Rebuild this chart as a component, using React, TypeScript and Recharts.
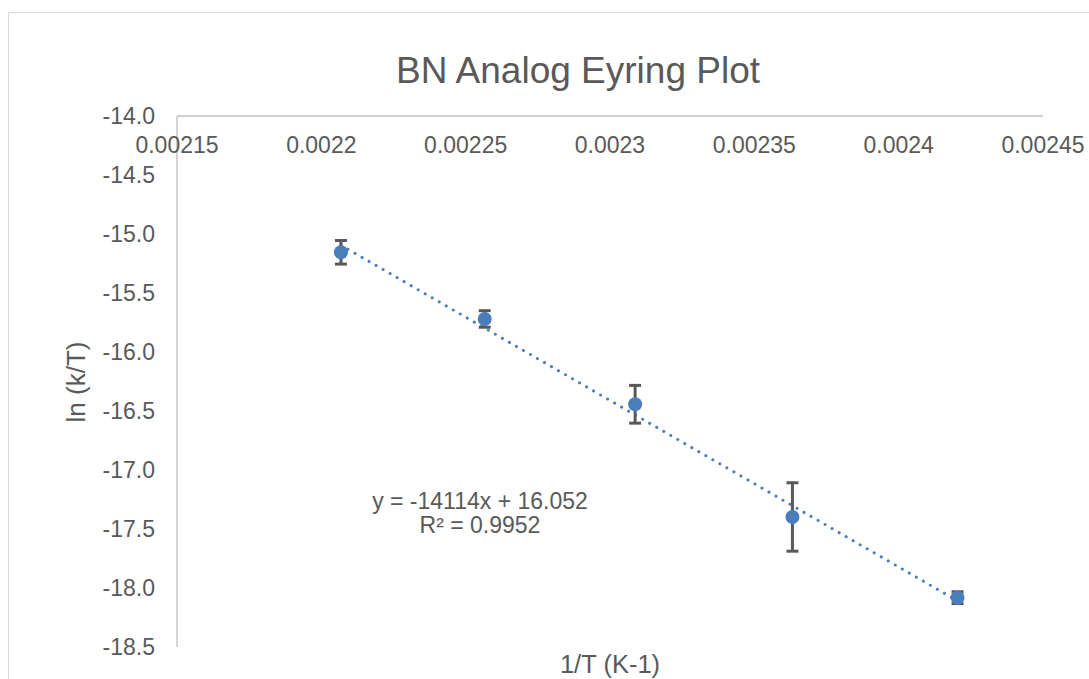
import React from 'react'
import { ErrorBar, ReferenceLine, Scatter, ScatterChart, XAxis, YAxis } from 'recharts'

// Eyring data: 1/T (K^-1), ln(k/T), +/- error
const invTemps = [0.0022068, 0.0022566, 0.0023087, 0.0023632, 0.0024204]
const lnKT = [-15.155, -15.72, -16.443, -17.398, -18.082]
const errs = [0.1, 0.07, 0.16, 0.29, 0.05]

const xTicks = [0.00215, 0.0022, 0.00225, 0.0023, 0.00235, 0.0024, 0.00245]
const xTickLabels = ['0.00215', '0.0022', '0.00225', '0.0023', '0.00235', '0.0024', '0.00245']
const yTicks = [-14, -14.5, -15, -15.5, -16, -16.5, -17, -17.5, -18, -18.5]

// linear trendline shown on the chart
const slope = -14114
const intercept = 16.052
const rSquared = '0.9952'

const points = invTemps.map((x, i) => ({ x, y: lnKT[i], err: errs[i] }))
const fitX0 = invTemps[0]
const fitX1 = invTemps[invTemps.length - 1]

const FONT = '"Liberation Sans", Arial, sans-serif'
const TEXT = '#595959'
const BLUE = '#4a7ebb'

const XTick = (props: any) => {
  const { x, y, index, payload } = props
  return (
    <text x={x} y={y + 36.5} textAnchor="middle" fill={TEXT} fontSize={23} fontFamily={FONT}>
      {xTickLabels[index] ?? String(payload.value)}
    </text>
  )
}

const Dot = (props: any) => {
  const { cx, cy } = props
  return <circle cx={cx} cy={cy} r={7} fill={BLUE} />
}

export default function App() {
  return (
    <div style={{ height: 663 }}>
      <div
        style={{
          position: 'absolute',
          left: 8,
          top: 12,
          width: 1081,
          height: 667,
          boxSizing: 'border-box',
          borderTop: '1px solid #d9d9d9',
          borderLeft: '1px solid #d9d9d9',
          background: '#fff',
        }}
      >
        <ScatterChart width={1080} height={666} margin={{ top: 73, right: 46, bottom: 32, left: 88 }}>
          <XAxis
            type="number"
            dataKey="x"
            orientation="top"
            height={30}
            domain={[0.00215, 0.00245]}
            ticks={xTicks}
            interval={0}
            tickLine={false}
            tickSize={0}
            tickMargin={0}
            axisLine={{ stroke: '#bfbfbf', strokeWidth: 1.3 }}
            tick={<XTick />}
          />
          <YAxis
            type="number"
            dataKey="y"
            width={80}
            domain={[-18.5, -14]}
            ticks={yTicks}
            interval={0}
            tickLine={false}
            tickSize={0}
            tickMargin={22}
            axisLine={{ stroke: '#bfbfbf', strokeWidth: 1.3 }}
            tickFormatter={(v: number) => v.toFixed(1)}
            tick={{ fill: TEXT, fontSize: 23, fontFamily: FONT }}
          />
          <ReferenceLine
            segment={[
              { x: fitX0, y: slope * fitX0 + intercept },
              { x: fitX1, y: slope * fitX1 + intercept },
            ]}
            stroke={BLUE}
            strokeWidth={3}
            strokeDasharray="0.1 8"
            strokeLinecap="round"
          />
          <Scatter data={points} shape={<Dot />} isAnimationActive={false}>
            <ErrorBar dataKey="err" direction="y" width={6} stroke="#595959" strokeWidth={3} isAnimationActive={false} />
          </Scatter>
        </ScatterChart>
        <svg
          width={1080}
          height={666}
          style={{ position: 'absolute', left: 0, top: 0, pointerEvents: 'none' }}
          fontFamily={FONT}
          fill={TEXT}
        >
          <text x={569} y={69.5} textAnchor="middle" fontSize={37}>
            BN Analog Eyring Plot
          </text>
          <text x={76} y={369} textAnchor="middle" fontSize={26} transform="rotate(-90 76 369)">
            ln (k/T)
          </text>
          <text x={601} y={660} textAnchor="middle" fontSize={25.5}>
            1/T (K-1)
          </text>
          <text x={471} y={496} textAnchor="middle" fontSize={23}>
            y = {slope}x + {intercept}
          </text>
          <text x={471} y={520} textAnchor="middle" fontSize={23}>
            R² = {rSquared}
          </text>
        </svg>
      </div>
    </div>
  )
}
